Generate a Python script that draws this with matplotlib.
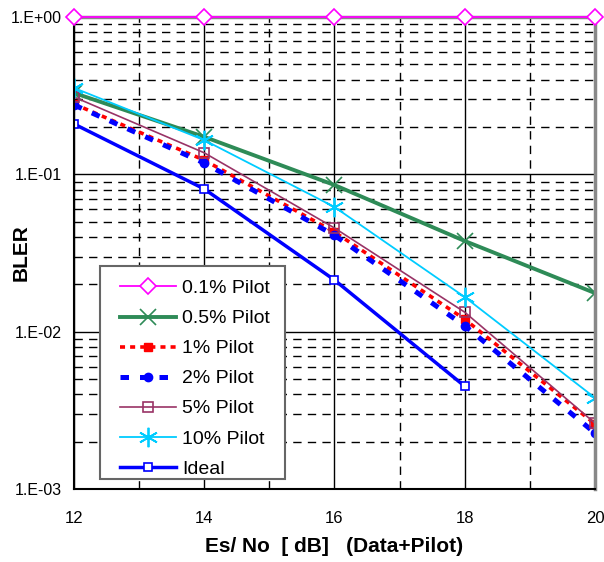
import matplotlib
matplotlib.use("Agg")
import matplotlib.pyplot as plt
from matplotlib.ticker import FixedLocator, NullFormatter, LogLocator
from matplotlib.patches import Rectangle

plt.rcParams['font.family'] = ['Liberation Sans', 'DejaVu Sans']

snr = [12, 14, 16, 18, 20]
snr_ideal = [12, 14, 16, 18]
p01 = [1.0, 1.0, 1.0, 1.0, 1.0]
p05 = [0.329, 0.173, 0.0855, 0.0377, 0.0176]
p1 = [0.28, 0.123, 0.043, 0.012, 0.00259]
p2 = [0.276, 0.118, 0.041, 0.0109, 0.00227]
p5 = [0.31, 0.137, 0.0456, 0.0133, 0.00262]
p10 = [0.354, 0.165, 0.062, 0.0166, 0.0038]
ideal = [0.209, 0.0807, 0.0213, 0.0045]
labels = ["0.1% Pilot", "0.5% Pilot", "1% Pilot", "2% Pilot", "5% Pilot", "10% Pilot", "Ideal"]
ytick_vals = [1e-3, 1e-2, 1e-1, 1e0]
ytick_labels = ["1.E-03", "1.E-02", "1.E-01", "1.E+00"]
xtick_vals = [12, 14, 16, 18, 20]

fig = plt.figure(figsize=(6.04, 5.62), dpi=100)
ax = fig.add_axes([0.1225, 0.1299, 0.8625, 0.8399])
ax.set_yscale('log')
ax.set_xlim(12, 20)
ax.set_ylim(1e-3, 1e0)

# grid
ax.set_axisbelow(True)
ax.yaxis.set_major_locator(FixedLocator(ytick_vals))
ax.yaxis.set_minor_locator(LogLocator(base=10, subs=range(2, 10)))
ax.yaxis.set_minor_formatter(NullFormatter())
ax.xaxis.set_major_locator(FixedLocator(xtick_vals))
ax.xaxis.set_minor_locator(FixedLocator([13, 15, 17, 19]))
ax.grid(which='major', axis='both', color='black', linestyle='-', linewidth=1.0)
ax.grid(which='minor', axis='both', color='black', linestyle=(0, (6, 4.5)), linewidth=1.0)
ax.tick_params(which='both', length=0)
ax.set_yticklabels(ytick_labels)
ax.set_xticklabels([str(v) for v in xtick_vals])
ax.tick_params(axis='y', labelsize=11.5, pad=9)
ax.tick_params(axis='x', labelsize=12, pad=16)

ax.plot(snr, p01, color='#FF00FF', lw=1.3, marker='D', ms=8, mfc='white', mec='#FF00FF', mew=1.2, clip_on=False, zorder=5, label=labels[0])
ax.plot(snr, p05, color='#2E8B57', lw=2.8, marker='x', ms=12, mew=1.2, label=labels[1])
ax.plot(snr, p1, color='#FF0000', lw=2.6, linestyle=(0, (1.4, 1.4)), marker='s', ms=6, label=labels[2])
ax.plot(snr, p2, color='#0000FF', lw=3.6, linestyle=(0, (1.7, 2.2)), marker='o', ms=6, label=labels[3])
ax.plot(snr, p5, color='#993366', lw=1.2, marker='s', ms=7, mfc='none', mec='#993366', mew=1.2, label=labels[4])
ax.plot(snr, p10, color='#00CCFF', lw=1.3, marker=(6, 2, 0), ms=14, mew=1.3, label=labels[5])
ax.plot(snr_ideal, ideal, color='#0000FF', lw=2.5, marker='s', ms=6, mfc='white', mec='#0000FF', mew=1.2, label=labels[6])

for side in ['left', 'bottom']:
    ax.spines[side].set_color('black')
    ax.spines[side].set_linewidth(1.5)
for side in ['right', 'top']:
    ax.spines[side].set_color('#888888')
    ax.spines[side].set_linewidth(2.5)

ax.set_xlabel("Es/ No  [ dB]   (Data+Pilot)", fontsize=15, fontweight='bold', labelpad=8)
ax.set_ylabel("BLER", fontsize=15, fontweight='bold')
ax.yaxis.set_label_coords(-0.0825, 0.5)

# legend frame drawn separately (wider side padding than top/bottom)
frame = Rectangle((0.0499, 0.021), 0.355, 0.4515, transform=ax.transAxes,
                  facecolor='white', edgecolor='#666666', linewidth=1.5, zorder=6)
ax.add_patch(frame)
leg = ax.legend(loc='upper left', bbox_to_anchor=(0.0883, 0.4435), borderaxespad=0, fontsize=14,
                frameon=False, handlelength=2.9, labelspacing=0.64, borderpad=0,
                handletextpad=0.3)
leg.set_zorder(7)

fig.savefig("out.png", dpi=100)
